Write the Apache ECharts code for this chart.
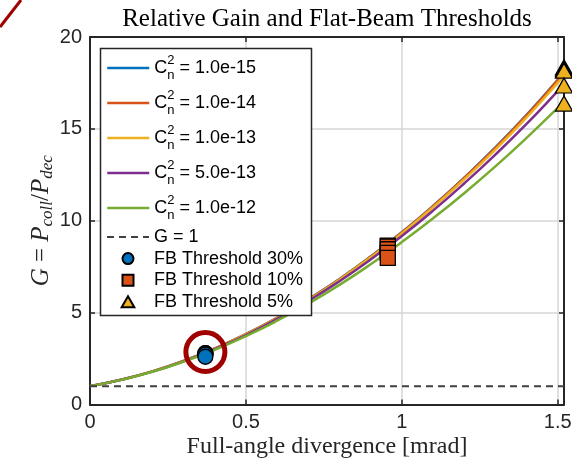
<!DOCTYPE html>
<html><head><meta charset="utf-8">
<script src="https://cdn.jsdelivr.net/npm/echarts@6/dist/echarts.min.js"></script>
<style>html,body{margin:0;padding:0;background:#fff}#c{width:572px;height:461px}</style>
</head><body><div id="c"></div>
<script>
// ---- data ----
const xValues = [0, 0.1, 0.2, 0.3, 0.4, 0.5, 0.6, 0.7, 0.8, 0.9, 1.0, 1.1, 1.2, 1.3, 1.4, 1.5, 1.52];
const cn2Labels = ['1.0e-15', '1.0e-14', '1.0e-13', '5.0e-13', '1.0e-12'];
const gCn1e15 = [1.00, 1.35, 1.80, 2.37, 3.05, 3.83, 4.72, 5.73, 6.83, 8.05, 9.37, 10.80, 12.34, 13.99, 15.76, 17.67, 18.07];
const gCn1e14 = [1.00, 1.35, 1.80, 2.37, 3.05, 3.83, 4.72, 5.72, 6.82, 8.04, 9.36, 10.79, 12.33, 13.97, 15.74, 17.65, 18.05];
const gCn1e13 = [1.00, 1.35, 1.80, 2.36, 3.04, 3.81, 4.70, 5.69, 6.79, 8.00, 9.31, 10.73, 12.25, 13.87, 15.62, 17.50, 17.89];
const gCn5e13 = [1.00, 1.35, 1.79, 2.35, 3.02, 3.78, 4.66, 5.63, 6.71, 7.89, 9.17, 10.55, 12.03, 13.60, 15.27, 17.05, 17.42];
const gCn1e12 = [1.00, 1.34, 1.78, 2.33, 2.98, 3.72, 4.56, 5.49, 6.51, 7.63, 8.84, 10.13, 11.50, 12.96, 14.51, 16.14, 16.48];
const unityLine = [[0, 1], [1.52, 1]];
const fb30X = [0.37, 0.37, 0.37, 0.37, 0.37];
const fb30G = [2.80, 2.79, 2.77, 2.72, 2.60];
const fb10X = [0.955, 0.955, 0.955, 0.955, 0.955];
const fb10G = [8.65, 8.60, 8.45, 8.25, 7.98];
const fb5X = [1.52, 1.52, 1.52, 1.52, 1.52];
const fb5G = [18.35, 18.25, 18.17, 17.36, 16.38];
const highlightPoint = [[0.37, 2.86]];
const xTicks = [0, 0.5, 1, 1.5];
const yTicks = [0, 5, 10, 15, 20];

// ---- styling ----
const colors = ['#0072BD', '#D95319', '#EDB120', '#7E2F8E', '#77AC30'];
const curves = [gCn1e15, gCn1e14, gCn1e13, gCn5e13, gCn1e12];
const axisColor = '#262626';
const sans = 'Liberation Sans';
const serif = 'Liberation Serif';
const curveNames = cn2Labels.map(l => 'Cn2 = ' + l);

const series = curves.map((g, k) => ({
  name: curveNames[k], type: 'line', symbol: 'none', smooth: true,
  data: xValues.map((x, i) => [x, g[i]]),
  lineStyle: { color: colors[k], width: 2.5 }, itemStyle: { color: colors[k] }, z: 2
}));
series.push({
  name: 'G = 1', type: 'line', symbol: 'none', data: unityLine,
  lineStyle: { color: '#404040', width: 2, type: [7, 5] }, itemStyle: { color: '#404040' }, z: 2
});
function markerSeries(name, xs, gs, symbol, size, color) {
  return {
    name, type: 'scatter', symbol, symbolSize: size, clip: false,
    data: xs.map((x, i) => [x, gs[i]]),
    itemStyle: { color, borderColor: '#000', borderWidth: 1.3, opacity: 1 }, z: 3
  };
}
series.push(markerSeries('FB Threshold 30%', fb30X, fb30G, 'circle', 15, '#0072BD'));
series.push(markerSeries('FB Threshold 10%', fb10X, fb10G, 'rect', 15, '#D95319'));
series.push(markerSeries('FB Threshold 5%', fb5X, fb5G, 'triangle', [17, 15], '#EDB120'));
series.push({
  name: 'highlight', type: 'scatter', symbol: 'circle', symbolSize: 39, clip: false,
  data: highlightPoint, silent: true,
  itemStyle: { color: 'rgba(0,0,0,0)', borderColor: '#A00000', borderWidth: 5, opacity: 1 }, z: 4
});

const axisLineStyle = { color: axisColor, width: 2 };
const tickStyle = { inside: true, length: 5, lineStyle: { color: axisColor, width: 1.5 } };
const hiddenSymbol = { opacity: 0 };

const option = {
  animation: false,
  backgroundColor: '#fff',
  title: {
    text: 'Relative Gain and Flat-Beam Thresholds', left: 327, top: 7, padding: 0,
    textAlign: 'center',
    textStyle: { fontFamily: serif, fontSize: 25, fontWeight: 'normal', color: '#000' }
  },
  grid: { left: 90, right: 8, top: 37, bottom: 56.5, outerBoundsMode: 'none', containLabel: false },
  xAxis: [{
    type: 'value', min: 0, max: 1.52, interval: 0.5, position: 'bottom',
    axisLine: { show: true, onZero: false, lineStyle: axisLineStyle },
    axisTick: tickStyle,
    axisLabel: {
      margin: 8, fontFamily: sans, fontSize: 20, color: axisColor,
      formatter: v => (xTicks.some(t => Math.abs(t - v) < 1e-9) ? String(v) : '')
    },
    splitLine: { show: true, lineStyle: { color: '#d6d6d6', width: 1.5 } },
    name: 'Full-angle divergence [mrad]', nameLocation: 'middle', nameGap: 30, nameMoveOverlap: false,
    nameTextStyle: { fontFamily: serif, fontSize: 24, color: axisColor }
  }, {
    type: 'value', min: 0, max: 1.52, interval: 0.5, position: 'top',
    axisLine: { show: true, onZero: false, lineStyle: axisLineStyle },
    axisTick: tickStyle, axisLabel: { show: false }, splitLine: { show: false }
  }],
  yAxis: [{
    type: 'value', min: 0, max: 20, interval: 5, position: 'left',
    axisLine: { show: true, onZero: false, lineStyle: axisLineStyle },
    axisTick: tickStyle,
    axisLabel: {
      margin: 8, fontFamily: sans, fontSize: 20, color: axisColor,
      formatter: v => (yTicks.includes(v) ? String(v) : '')
    },
    splitLine: { show: true, lineStyle: { color: '#d6d6d6', width: 1.5 } },
    name: '{i|G} {r|=} {i|P}{s|coll}{r|/}{i|P}{s|dec}', nameLocation: 'middle', nameGap: 34, nameRotate: 90,
    nameMoveOverlap: false,
    nameTextStyle: {
      fontFamily: serif, fontSize: 25, color: axisColor, lineHeight: 30,
      rich: {
        i: { fontFamily: serif, fontStyle: 'italic', fontSize: 25, color: axisColor, lineHeight: 30 },
        r: { fontFamily: serif, fontSize: 25, color: axisColor, lineHeight: 30 },
        s: { fontFamily: serif, fontStyle: 'italic', fontSize: 17, color: axisColor, lineHeight: 19, verticalAlign: 'bottom' }
      }
    }
  }, {
    type: 'value', min: 0, max: 20, interval: 5, position: 'right',
    axisLine: { show: true, onZero: false, lineStyle: axisLineStyle },
    axisTick: tickStyle, axisLabel: { show: false }, splitLine: { show: false }
  }],
  legend: [{
    data: curveNames.map(n => ({ name: n, itemStyle: hiddenSymbol })),
    orient: 'vertical', left: 106, top: 54, padding: 0,
    itemWidth: 42, itemHeight: 12, itemGap: 7, z: 6, selectedMode: false,
    lineStyle: { width: 2.5 },
    formatter: name => '{c|C}{sup|2}{sub|n}{t| = ' + name.split('= ')[1] + '}',
    textStyle: {
      fontFamily: sans, fontSize: 18, color: '#000',
      rich: {
        c: { fontFamily: sans, fontSize: 18, color: '#000', lineHeight: 28 },
        sup: { fontFamily: sans, fontSize: 13, color: '#000', lineHeight: 16, width: 0, verticalAlign: 'top' },
        sub: { fontFamily: sans, fontSize: 13, color: '#000', lineHeight: 13, verticalAlign: 'bottom' },
        t: { fontFamily: sans, fontSize: 18, color: '#000', lineHeight: 28 }
      }
    }
  }, {
    data: [
      { name: 'G = 1', itemStyle: hiddenSymbol, lineStyle: { width: 2, type: [7, 5] } },
      { name: 'FB Threshold 30%', icon: 'circle' },
      { name: 'FB Threshold 10%', icon: 'path://M0,0L10,0L10,10L0,10Z' },
      { name: 'FB Threshold 5%', icon: 'path://M6,0L12,10.4L0,10.4Z' }
    ],
    orient: 'vertical', left: 106, top: 226.5, padding: 0, symbolKeepAspect: true,
    itemWidth: 42, itemHeight: 11, itemGap: 0.6, z: 6, selectedMode: false,
    textStyle: { fontFamily: sans, fontSize: 18, color: '#000', lineHeight: 21 }
  }],
  graphic: [{
    type: 'rect', z: 5, silent: true,
    shape: { x: 100.5, y: 48.5, width: 211, height: 267 },
    style: { fill: '#fff', stroke: axisColor, lineWidth: 1.5 }
  }, {
    type: 'line', z: 10, silent: true,
    shape: { x1: 0, y1: 27, x2: 21, y2: 0 },
    style: { stroke: '#A00000', lineWidth: 3 }
  }],
  series
};
const chart = echarts.init(document.getElementById('c'), null, { renderer: 'canvas' });
chart.setOption(option);
</script>
</body></html>
